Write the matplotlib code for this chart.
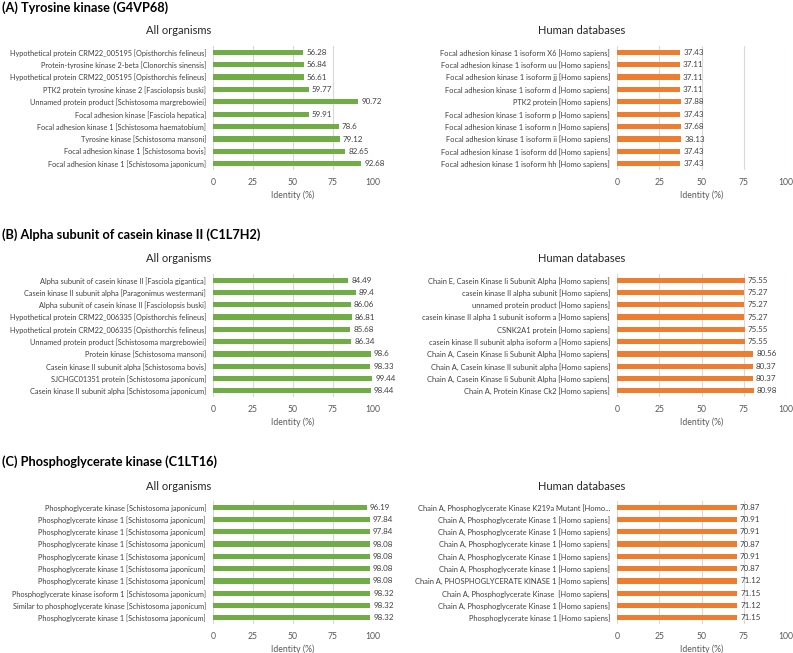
import matplotlib.pyplot as plt
import numpy as np

plt.rcParams['font.family'] = ['Lato', 'DejaVu Sans']

W, H = 793, 653

# ---- data ----
a_org_labels = ['Hypothetical protein CRM22_005195 [Opisthorchis felineus]',
                'Protein-tyrosine kinase 2-beta [Clonorchis sinensis]',
                'Hypothetical protein CRM22_005195 [Opisthorchis felineus]',
                'PTK2 protein tyrosine kinase 2 [Fasciolopsis buski]',
                'Unnamed protein product [Schistosoma margrebowiei]',
                'Focal adhesion kinase [Fasciola hepatica]',
                'Focal adhesion kinase 1 [Schistosoma haematobium]',
                'Tyrosine kinase [Schistosoma mansoni]',
                'Focal adhesion kinase 1 [Schistosoma bovis]',
                'Focal adhesion kinase 1 [Schistosoma japonicum]']
a_org_vals = [56.28, 56.84, 56.61, 59.77, 90.72, 59.91, 78.6, 79.12, 82.65, 92.68]

a_hum_labels = ['Focal adhesion kinase 1 isoform X6 [Homo sapiens]',
                'Focal adhesion kinase 1 isoform uu [Homo sapiens]',
                'Focal adhesion kinase 1 isoform jj [Homo sapiens]',
                'Focal adhesion kinase 1 isoform d [Homo sapiens]',
                'PTK2 protein [Homo sapiens]',
                'Focal adhesion kinase 1 isoform p [Homo sapiens]',
                'Focal adhesion kinase 1 isoform n [Homo sapiens]',
                'Focal adhesion kinase 1 isoform ii [Homo sapiens]',
                'Focal adhesion kinase 1 isoform dd [Homo sapiens]',
                'Focal adhesion kinase 1 isoform hh [Homo sapiens]']
a_hum_vals = [37.43, 37.11, 37.11, 37.11, 37.88, 37.43, 37.68, 38.13, 37.43, 37.43]

b_org_labels = ['Alpha subunit of casein kinase II [Fasciola gigantica]',
                'Casein kinase II subunit alpha [Paragonimus westermani]',
                'Alpha subunit of casein kinase II [Fasciolopsis buski]',
                'Hypothetical protein CRM22_006335 [Opisthorchis felineus]',
                'Hypothetical protein CRM22_006335 [Opisthorchis felineus]',
                'Unnamed protein product [Schistosoma margrebowiei]',
                'Protein kinase [Schistosoma mansoni]',
                'Casein kinase II subunit alpha [Schistosoma bovis]',
                'SJCHGC01351 protein [Schistosoma japonicum]',
                'Casein kinase II subunit alpha [Schistosoma japonicum]']
b_org_vals = [84.49, 89.4, 86.06, 86.81, 85.68, 86.34, 98.6, 98.33, 99.44, 98.44]

b_hum_labels = ['Chain E, Casein Kinase Ii Subunit Alpha [Homo sapiens]',
                'casein kinase II alpha subunit [Homo sapiens]',
                'unnamed protein product [Homo sapiens]',
                'casein kinase II alpha 1 subunit isoform a [Homo sapiens]',
                'CSNK2A1 protein [Homo sapiens]',
                'casein kinase II subunit alpha isoform a [Homo sapiens]',
                'Chain A, Casein Kinase Ii Subunit Alpha [Homo sapiens]',
                'Chain A, Casein kinase II subunit alpha [Homo sapiens]',
                'Chain A, Casein Kinase Ii Subunit Alpha [Homo sapiens]',
                'Chain A, Protein Kinase Ck2 [Homo sapiens]']
b_hum_vals = [75.55, 75.27, 75.27, 75.27, 75.55, 75.55, 80.56, 80.37, 80.37, 80.98]

c_org_labels = ['Phosphoglycerate kinase [Schistosoma japonicum]',
                'Phosphoglycerate kinase 1 [Schistosoma japonicum]',
                'Phosphoglycerate kinase 1 [Schistosoma japonicum]',
                'Phosphoglycerate kinase 1 [Schistosoma japonicum]',
                'Phosphoglycerate kinase 1 [Schistosoma japonicum]',
                'Phosphoglycerate kinase 1 [Schistosoma japonicum]',
                'Phosphoglycerate kinase 1 [Schistosoma japonicum]',
                'Phosphoglycerate kinase isoform 1 [Schistosoma japonicum]',
                'Similar to phosphoglycerate kinase [Schistosoma japonicum]',
                'Phosphoglycerate kinase 1 [Schistosoma japonicum]']
c_org_vals = [96.19, 97.84, 97.84, 98.08, 98.08, 98.08, 98.08, 98.32, 98.32, 98.32]

c_hum_labels = ['Chain A, Phosphoglycerate Kinase K219a Mutant [Homo...',
                'Chain A, Phosphoglycerate Kinase 1 [Homo sapiens]',
                'Chain A, Phosphoglycerate Kinase 1 [Homo sapiens]',
                'Chain A, Phosphoglycerate kinase 1 [Homo sapiens]',
                'Chain A, Phosphoglycerate Kinase 1 [Homo sapiens]',
                'Chain A, Phosphoglycerate kinase 1 [Homo sapiens]',
                'Chain A, PHOSPHOGLYCERATE KINASE 1 [Homo sapiens]',
                'Chain A, Phosphoglycerate Kinase  [Homo sapiens]',
                'Chain A, Phosphoglycerate Kinase 1 [Homo sapiens]',
                'Phosphoglycerate kinase 1 [Homo sapiens]']
c_hum_vals = [70.87, 70.91, 70.91, 70.87, 70.91, 70.87, 71.12, 71.15, 71.12, 71.15]

panel_titles = ['(A) Tyrosine kinase (G4VP68)',
                '(B) Alpha subunit of casein kinase II (C1L7H2)',
                '(C) Phosphoglycerate kinase (C1LT16)']
xticks = [0, 25, 50, 75, 100]

GREEN = '#70AD47'
ORANGE = '#ED7D31'

fig = plt.figure(figsize=(W / 100, H / 100), dpi=100)


def px_axes(x0, x1, y0, y1):
    # pixel box (top-left origin) -> figure axes
    return fig.add_axes([x0 / W, 1 - y1 / H, (x1 - x0) / W, (y1 - y0) / H])


def bar_panel(ax, labels, vals, color, fs):
    y = np.arange(len(vals))
    ax.barh(y, vals, height=0.42, color=color, zorder=3)
    for yi, v in zip(y, vals):
        ax.annotate(f'{v:g}', (v, yi), xytext=(2.2, 0), textcoords='offset points',
                    va='center', ha='left', fontsize=5.8, color='#404040')
    ax.set_ylim(-0.5, len(vals) - 0.5)
    ax.invert_yaxis()
    ax.set_xlim(0, 100)
    ax.set_xticks(xticks)
    ax.set_yticks(y)
    ax.set_yticklabels(labels)
    ax.tick_params(axis='y', length=0, pad=5, labelsize=fs, labelcolor='#404040')
    ax.tick_params(axis='x', length=0, pad=6, labelsize=6.2, labelcolor='#595959')
    ax.grid(axis='x', color='#d9d9d9', linewidth=0.8, zorder=0)
    for s in ax.spines.values():
        s.set_visible(False)
    ax.set_xlabel('Identity (%)', fontsize=6.2, color='#595959', labelpad=2)


# (top, bottom) of bar band in pixels for each row of panels
rows = [(46, 170), (274, 397), (501, 624)]
title_y = [8, 235, 462]
sub_y = [31, 258, 487]
data = [(a_org_labels, a_org_vals, a_hum_labels, a_hum_vals),
        (b_org_labels, b_org_vals, b_hum_labels, b_hum_vals),
        (c_org_labels, c_org_vals, c_hum_labels, c_hum_vals)]

for r, (top, bot) in enumerate(rows):
    ol, ov, hl, hv = data[r]
    ax1 = px_axes(213, 373, top, bot)
    bar_panel(ax1, ol, ov, GREEN, 5.35)
    ax2 = px_axes(617, 786, top, bot)
    bar_panel(ax2, hl, hv, ORANGE, 5.45)
    fig.text(2 / W, 1 - title_y[r] / H, panel_titles[r], fontsize=9.2, fontweight='bold',
             ha='left', va='center', color='black')
    fig.text(179 / W, 1 - sub_y[r] / H, 'All organisms', fontsize=8, ha='center',
             va='center', color='#262626')
    fig.text(582 / W, 1 - sub_y[r] / H, 'Human databases', fontsize=8, ha='center',
             va='center', color='#262626')

plt.savefig('out.png', dpi=100)
